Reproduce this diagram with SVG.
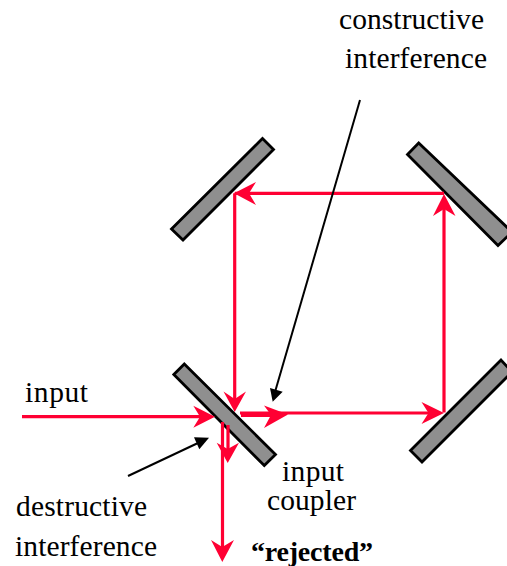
<svg xmlns="http://www.w3.org/2000/svg" width="507" height="566" viewBox="0 0 507 566">
<style>
.m{fill:#8f8f8f;stroke:#000;stroke-width:2.8;stroke-linejoin:miter}
.r{fill:none;stroke:#ff0033;stroke-width:3.2}
.rh{fill:#ff0033;stroke:none}
.b{fill:none;stroke:#000;stroke-width:2}
.bh{fill:#000;stroke:none}
text{font-family:"Liberation Serif","Times New Roman",serif;font-size:29.5px;fill:#000}
</style>
<rect width="507" height="566" fill="#fff"/>
<g id="mirror-top-left"><polygon class="m" points="262.5,138.5 273.5,149.5 183,240 171.5,229"/></g>
<g id="mirror-top-right"><polygon class="m" points="418.7,143 407.5,154.5 498,245.5 512,232"/></g>
<g id="mirror-bottom-right"><polygon class="m" points="501,360 410.5,450.5 422,462 512,372"/></g>
<g id="mirror-input-coupler"><polygon class="m" points="184.3,364 275.5,454.5 264.3,465.5 173.8,374.5"/></g>
<g id="connectors">
<path class="r" d="M22 416.7H205"/>
<polygon class="rh" points="215,416.7 193.3,405.7 200,416.7 193.3,427.7"/>
<path class="r" d="M234.7 193.3V402"/>
<polygon class="rh" points="234.7,412 223.5,391.5 234.7,399 246,391.5"/>
<path class="r" d="M234.7 193.3H444"/>
<polygon class="rh" points="234,193.3 256,182 249,193.3 256,205"/>
<path class="r" d="M444 412.5V205"/>
<polygon class="rh" points="444,194 433,216 444,209 455.5,216"/>
<path class="r" d="M240 413H434"/>
<polygon class="rh" points="444,413 421.5,402 428.5,413 421.5,424"/>
<path class="r" d="M241 415.5H278"/>
<polygon class="rh" points="288,414.5 264,405.5 271,415 264,428"/>
<path class="r" d="M222.5 422V552"/>
<polygon class="rh" points="222.3,562 211,540 222.3,547 234,540"/>
<path class="r" d="M228 425V453"/>
<polygon class="rh" points="227.7,463 216.7,442.7 227.7,449 239,442.7"/>
<path class="b" d="M360 100L275 392"/>
<polygon class="bh" points="272.7,401.7 270,388 282.7,391.7"/>
<path class="b" d="M128 476L198 443"/>
<polygon class="bh" points="209,437.7 194,437.3 199.3,449.3"/>
</g>
<g id="labels">
<text x="339" y="29" textLength="145">constructive</text>
<text x="345" y="68" textLength="142">interference</text>
<text x="25" y="402" textLength="63">input</text>
<text x="16" y="515.7" textLength="131">destructive</text>
<text x="15" y="555.7" textLength="142">interference</text>
<text x="282" y="480.7" textLength="62">input</text>
<text x="267" y="510" textLength="89">coupler</text>
<text x="251" y="561" textLength="122" font-weight="bold" style="font-size:28px">“rejected”</text>
</g>
</svg>
